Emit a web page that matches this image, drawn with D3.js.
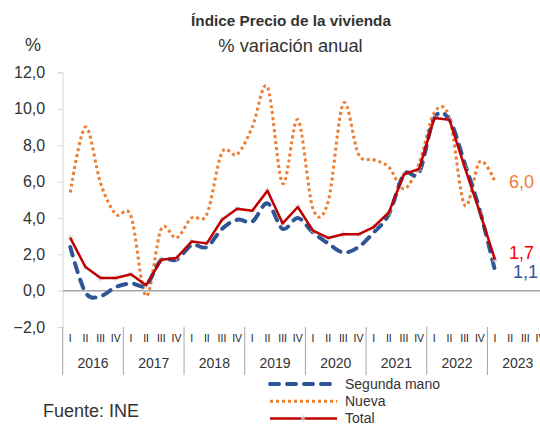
<!DOCTYPE html>
<html>
<head>
<meta charset="utf-8">
<script src="https://cdn.jsdelivr.net/npm/d3@7"></script>
<style>
body { margin: 0; background: #fff; }
text { font-family: "Liberation Sans", Arial, sans-serif; fill: #333; }
</style>
</head>
<body>
<svg width="540" height="425"></svg>
<script>
// data, 2016 Q1 .. 2023 Q1
var years = ["2016","2017","2018","2019","2020","2021","2022","2023"]
var quarters = ["I","II","III","IV"]
var segundaMano = [2.4,-0.1,-0.3,0.2,0.4,0.3,1.7,1.7,2.5,2.4,3.4,3.9,3.8,4.8,3.4,4.0,3.2,2.6,2.1,2.4,3.2,4.2,6.4,6.5,9.5,9.4,7.0,4.4,1.1]
var nueva = [5.4,9.0,5.9,4.2,4.1,-0.3,3.4,2.9,4.0,4.2,7.6,7.5,9.0,11.2,5.9,9.4,4.5,4.9,10.3,7.5,7.2,6.8,5.6,7.0,9.8,9.5,4.7,7.1,6.0]
var total = [2.9,1.3,0.7,0.7,0.9,0.3,1.7,1.8,2.7,2.6,3.9,4.5,4.4,5.5,3.7,4.6,3.3,2.9,3.1,3.1,3.5,4.3,6.4,6.7,9.5,9.4,6.8,4.3,1.7]
var yTicks = [-2,0,2,4,6,8,10,12]

var colors = {segunda:"#2F5597", nueva:"#ED7D31", total:"#C00000"}

var svg = d3.select("svg")

// every quarter of every year is one band
var keys = []
years.forEach(function(y){ quarters.forEach(function(q){ keys.push(y+"-"+q) }) })

var xScale = d3.scaleBand().domain(keys).range([62.7, 548.1]).padding(0)
var yScale = d3.scaleLinear().domain([-2, 12]).range([327, 72.5])
var xPos = function(d, i){ return xScale(keys[i]) + xScale.bandwidth()/2 }
var fmt = function(v){ return d3.format(".1f")(v).replace(".", ",") }

// titles
svg.append("text").attr("x", 291).attr("y", 26).attr("text-anchor", "middle")
    .style("font-weight", "bold").style("font-size", "15.3px").text("Índice Precio de la vivienda")
svg.append("text").attr("x", 290.5).attr("y", 52).attr("text-anchor", "middle")
    .style("font-size", "18.3px").text("% variación anual")
svg.append("text").attr("x", 25).attr("y", 51).style("font-size", "18px").text("%")

// y axis
var yAxis = d3.axisLeft(yScale).tickValues(yTicks).tickSize(5).tickFormat(fmt)
var gy = svg.append("g").attr("transform", "translate(62.7,0)").call(yAxis)
gy.select(".domain").attr("stroke", "#D9D9D9")
gy.selectAll(".tick line").attr("stroke", "#D9D9D9")
gy.selectAll(".tick text").attr("x", -17.5).attr("fill", "#333")
    .style("font-size", "16px").style("font-family", "Liberation Sans, Arial, sans-serif")

// zero line
svg.append("line").attr("x1", 62.7).attr("x2", 548).attr("y1", yScale(0)).attr("y2", yScale(0))
    .attr("stroke", "#A6A6A6").attr("stroke-width", 1.5)

// category axis: quarters + years
var gx = svg.append("g")
gx.selectAll(".q").data(keys).enter().append("text")
    .attr("x", function(d){ return xScale(d) + xScale.bandwidth()/2 })
    .attr("y", 341.5).attr("text-anchor", "middle").style("font-size", "10.5px").style("fill", "#222")
    .text(function(d){ return d.split("-")[1] })
gx.selectAll(".yr").data(years).enter().append("text")
    .attr("x", function(y){ return xScale(y+"-I") + xScale.bandwidth()*2 })
    .attr("y", 368).attr("text-anchor", "middle").style("font-size", "14px")
    .text(function(y){ return y })
gx.selectAll(".sep").data(years.concat(["end"])).enter().append("line")
    .attr("x1", function(y, i){ return i < years.length ? xScale(y+"-I") : xScale.range()[1] })
    .attr("x2", function(y, i){ return i < years.length ? xScale(y+"-I") : xScale.range()[1] })
    .attr("y1", 327).attr("y2", 375).attr("stroke", "#A6A6A6").attr("stroke-width", 1)

// lines
var smooth = d3.line().x(xPos).y(function(d){ return yScale(d) }).curve(d3.curveCardinal.tension(0))
var straight = d3.line().x(xPos).y(function(d){ return yScale(d) })

svg.append("path").datum(nueva).attr("d", smooth).attr("fill", "none")
    .attr("stroke", colors.nueva).attr("stroke-width", 3).attr("stroke-dasharray", "3,3")
svg.append("path").datum(segundaMano).attr("d", smooth).attr("fill", "none")
    .attr("stroke", colors.segunda).attr("stroke-width", 4).attr("stroke-linecap", "round")
    .attr("stroke-dasharray", "9,8")

var star = d3.symbol().type(d3.symbolAsterisk).size(28)
svg.selectAll(".mk").data(total).enter().append("path")
    .attr("d", star).attr("fill", "none").attr("stroke", "#C8C8C8").attr("stroke-width", 1)
    .attr("transform", function(d, i){ return "translate(" + xPos(d, i) + "," + yScale(d) + ")" })
svg.append("path").datum(total).attr("d", straight).attr("fill", "none")
    .attr("stroke", colors.total).attr("stroke-width", 2.5).attr("stroke-linejoin", "round")

// end labels
var last = total.length - 1
var endLabels = [
    {v: nueva[last], c: "#ED7D31", dy: 6},
    {v: total[last], c: "#FF0000", dy: -1},
    {v: segundaMano[last], c: "#2F5597", dy: 7}
]
svg.selectAll(".end").data(endLabels).enter().append("text")
    .attr("x", function(d, i){ return xPos(0, last) + (i == 2 ? 18 : 14) })
    .attr("y", function(d){ return yScale(d.v) + d.dy })
    .style("font-size", "18px").style("fill", function(d){ return d.c })
    .text(function(d){ return fmt(d.v) })

// legend
var legend = [
    {name: "Segunda mano", c: colors.segunda, w: 4, dash: "9,8", cap: "round"},
    {name: "Nueva", c: colors.nueva, w: 3, dash: "3,3", cap: "butt"},
    {name: "Total", c: colors.total, w: 2.5, dash: null, cap: "butt"}
]
var lg = svg.append("g").selectAll("g").data(legend).enter().append("g")
    .attr("transform", function(d, i){ return "translate(268," + (384 + i*17.2) + ")" })
lg.append("line").attr("x1", 2).attr("x2", 69).attr("y1", 0).attr("y2", 0)
    .attr("stroke", function(d){ return d.c }).attr("stroke-width", function(d){ return d.w })
    .attr("stroke-dasharray", function(d){ return d.dash }).attr("stroke-linecap", function(d){ return d.cap })
lg.filter(function(d){ return d.name == "Total" }).append("path")
    .attr("d", star).attr("fill", "none").attr("stroke", "#C8C8C8").attr("transform", "translate(35,0)")
lg.append("text").attr("x", 77).attr("y", 5).style("font-size", "14px").text(function(d){ return d.name })

svg.append("text").attr("x", 43).attr("y", 417).style("font-size", "18px").text("Fuente: INE")
</script>
</body>
</html>
